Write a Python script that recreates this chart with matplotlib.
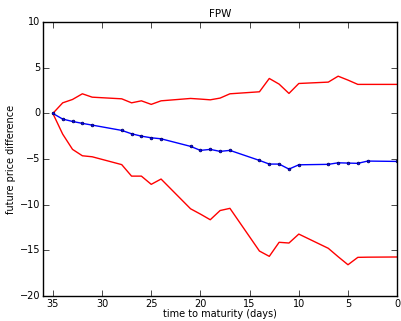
import matplotlib
matplotlib.use('Agg')
import matplotlib.pyplot as plt

# days to maturity (trading days only)
days = [35, 34, 33, 32, 31, 28, 27, 26, 25, 24, 21, 20, 19, 18, 17,
        14, 13, 12, 11, 10, 7, 6, 5, 4, 3, 0]

mean_diff = [0.0, -0.62, -0.88, -1.09, -1.28, -1.86, -2.23, -2.49, -2.67, -2.78,
             -3.61, -4.05, -3.94, -4.16, -4.05, -5.15, -5.55, -5.55, -6.10, -5.63,
             -5.58, -5.41, -5.44, -5.47, -5.22, -5.26]

upper_diff = [0.0, 1.16, 1.53, 2.15, 1.78, 1.60, 1.16, 1.38, 0.99, 1.38,
              1.64, 1.57, 1.49, 1.68, 2.15, 2.37, 3.83, 3.21, 2.19, 3.28,
              3.43, 4.08, 3.65, 3.18, 3.18, 3.18]

lower_diff = [0.0, -2.27, -3.94, -4.64, -4.75, -5.61, -6.87, -6.87, -7.77, -7.19,
              -10.45, -11.03, -11.65, -10.64, -10.40, -15.08, -15.66, -14.12, -14.20, -13.22,
              -14.78, -15.70, -16.58, -15.77, -15.75, -15.73]

xticks = [35, 30, 25, 20, 15, 10, 5, 0]
yticks = [10, 5, 0, -5, -10, -15, -20]

plt.style.use('classic')
plt.rcParams['font.size'] = 7

fig = plt.figure(figsize=(4.02, 3.21), dpi=100, facecolor='white')
ax = fig.add_subplot(111)
fig.subplots_adjust(left=0.107, right=0.988, bottom=0.078, top=0.931)

ax.plot(days, upper_diff, 'r-', lw=1)
ax.plot(days, lower_diff, 'r-', lw=1)
ax.plot(days, mean_diff, 'b.-', lw=1, ms=4, mec='#000050')

ax.set_xlim(36, 0)
ax.set_ylim(-20, 10)
ax.set_xticks(xticks)
ax.set_yticks(yticks)
ax.tick_params(axis='x', labelsize=7, pad=2)
ax.tick_params(axis='y', labelsize=7, pad=2)
ax.set_title('FPW', fontsize=7.5, pad=4)
ax.set_xlabel('time to maturity (days)', fontsize=7, labelpad=0)
ax.set_ylabel('future price difference', fontsize=7, labelpad=3)

fig.savefig('out.png', dpi=100, facecolor='white')
